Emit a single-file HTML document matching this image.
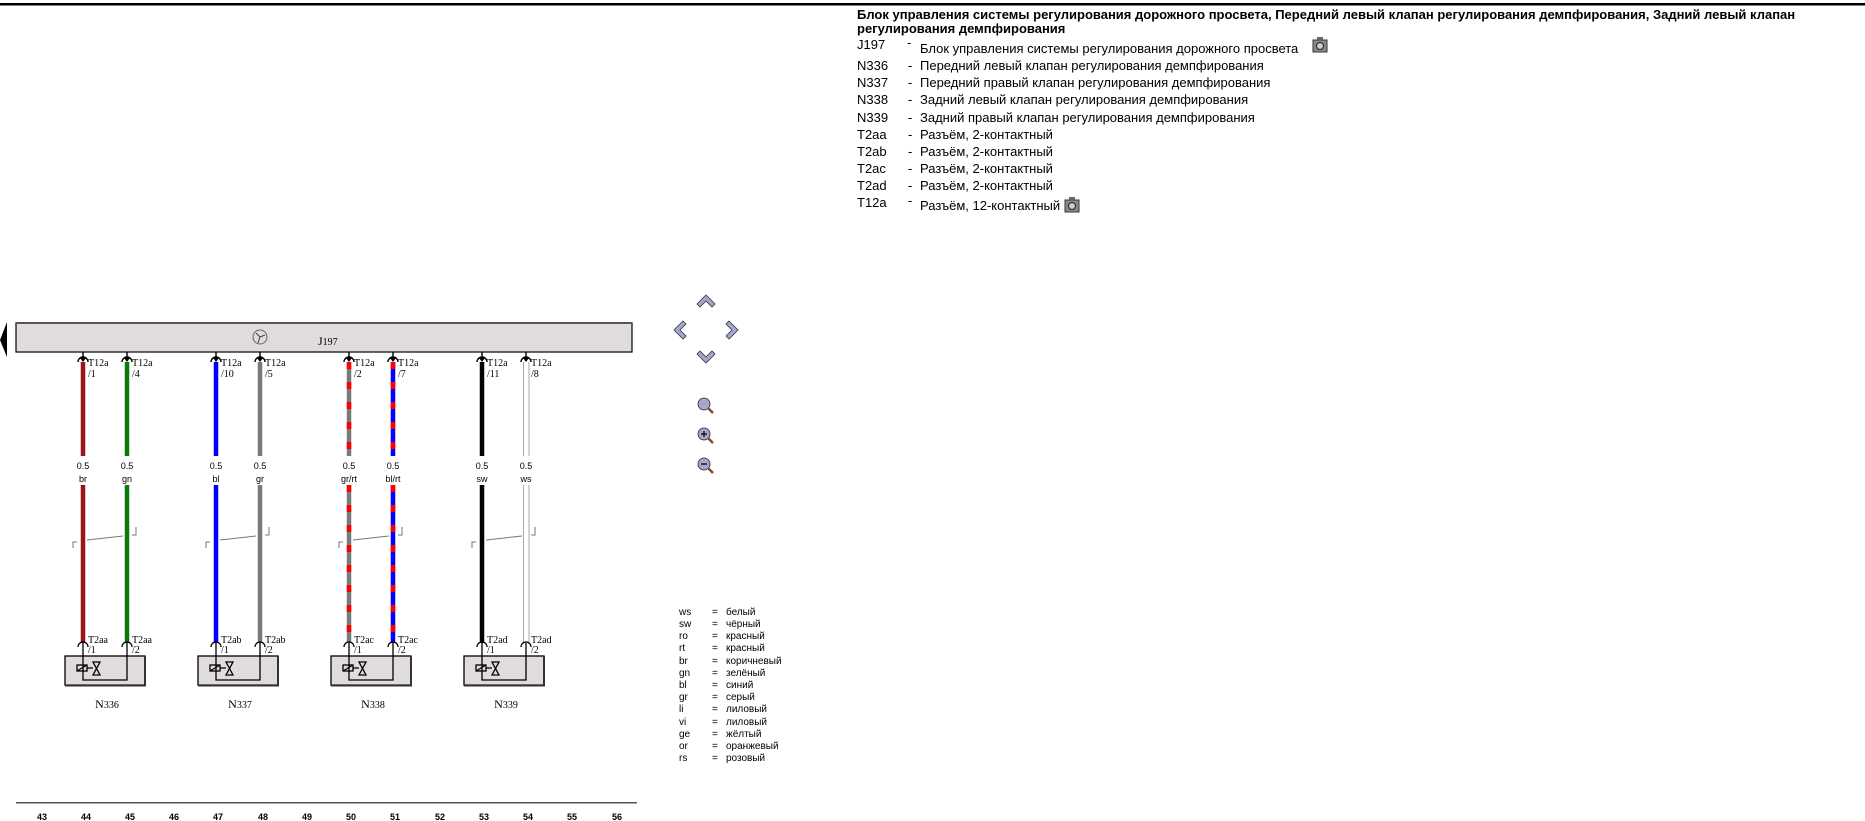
<!DOCTYPE html>
<html><head><meta charset="utf-8"><style>
html,body{margin:0;padding:0;background:#fff;width:1865px;height:821px;overflow:hidden}
svg{display:block}
.s{font-family:"Liberation Sans",sans-serif}
.r{font-family:"Liberation Serif",serif}
</style></head><body>
<svg width="1865" height="821" viewBox="0 0 1865 821" xmlns="http://www.w3.org/2000/svg">
<rect x="0" y="3" width="1865" height="2.5" fill="#000"/>
<g class="s" font-size="13" fill="#000">
<text x="857" y="19" font-weight="bold">Блок управления системы регулирования дорожного просвета, Передний левый клапан регулирования демпфирования, Задний левый клапан</text>
<text x="857" y="33" font-weight="bold">регулирования демпфирования</text>
<text x="857" y="49">J197</text><text x="907" y="47">-</text>
<text x="920" y="53">Блок управления системы регулирования дорожного просвета</text>
<text x="857" y="70">N336</text><text x="908" y="70">-</text><text x="920" y="70">Передний левый клапан регулирования демпфирования</text>
<text x="857" y="87">N337</text><text x="908" y="87">-</text><text x="920" y="87">Передний правый клапан регулирования демпфирования</text>
<text x="857" y="104">N338</text><text x="908" y="104">-</text><text x="920" y="104">Задний левый клапан регулирования демпфирования</text>
<text x="857" y="122">N339</text><text x="908" y="122">-</text><text x="920" y="122">Задний правый клапан регулирования демпфирования</text>
<text x="857" y="139">T2aa</text><text x="908" y="139">-</text><text x="920" y="139">Разъём, 2-контактный</text>
<text x="857" y="156">T2ab</text><text x="908" y="156">-</text><text x="920" y="156">Разъём, 2-контактный</text>
<text x="857" y="173">T2ac</text><text x="908" y="173">-</text><text x="920" y="173">Разъём, 2-контактный</text>
<text x="857" y="190">T2ad</text><text x="908" y="190">-</text><text x="920" y="190">Разъём, 2-контактный</text>
<text x="857" y="207">T12a</text><text x="908" y="205">-</text><text x="920" y="210">Разъём, 12-контактный</text>
</g>
<g transform="translate(66,0)"><rect x="1247" y="40" width="14" height="12" fill="#888" stroke="#333" stroke-width="1"/><rect x="1251" y="37" width="6" height="4" fill="#666"/><circle cx="1254" cy="46" r="3.5" fill="#ccc" stroke="#222"/></g>
<g transform="translate(-182,160)"><rect x="1247" y="40" width="14" height="12" fill="#888" stroke="#333" stroke-width="1"/><rect x="1251" y="37" width="6" height="4" fill="#666"/><circle cx="1254" cy="46" r="3.5" fill="#ccc" stroke="#222"/></g>

<polygon points="0,340 7,322 7,357" fill="#000"/>
<rect x="16" y="323" width="616" height="29" fill="#dfdbde" stroke="#000" stroke-width="1.2"/>
<rect x="16" y="322" width="616" height="2" fill="#555"/>
<circle cx="260" cy="337" r="7" fill="none" stroke="#666" stroke-width="1"/>
<path d="M256,333 L260,337 L265,335 M260,337 L258,343" stroke="#444" fill="none" stroke-width="1"/>
<text x="318" y="345" class="r" font-size="12">J<tspan font-size="10">197</tspan></text>

<g stroke-width="4.5" fill="none">
<path d="M83,362V456M83,485V643" stroke="#9b1418"/>
<path d="M127,362V456M127,485V643" stroke="#0b7a0b"/>
<path d="M216,362V456M216,485V643" stroke="#0000ff"/>
<path d="M260,362V456M260,485V643" stroke="#7a7a7a"/>
<path d="M349,362V456M349,485V643" stroke="#7a7a7a"/>
<path d="M349,362V456M349,485V643" stroke="#ff0000" stroke-dasharray="7 13"/>
<path d="M393,362V456M393,485V643" stroke="#0000ff"/>
<path d="M393,362V456M393,485V643" stroke="#ff0000" stroke-dasharray="7 13"/>
<path d="M482,362V456M482,485V643" stroke="#000"/>
</g>
<g stroke="#aaa" stroke-width="1" fill="none">
<path d="M523.5,362V456M523.5,485V643M529,362V456M529,485V643"/>
</g>

<g stroke="#000" stroke-width="1.4" fill="none">
<path d="M78,362 A5,5 0 0 1 88,362 M83,352V361"/>
<path d="M122,362 A5,5 0 0 1 132,362 M127,352V361"/>
<path d="M211,362 A5,5 0 0 1 221,362 M216,352V361"/>
<path d="M255,362 A5,5 0 0 1 265,362 M260,352V361"/>
<path d="M344,362 A5,5 0 0 1 354,362 M349,352V361"/>
<path d="M388,362 A5,5 0 0 1 398,362 M393,352V361"/>
<path d="M477,362 A5,5 0 0 1 487,362 M482,352V361"/>
<path d="M521,362 A5,5 0 0 1 531,362 M526,352V361"/>
</g>
<g fill="#000">
<polygon points="80,358 86,358 83,362"/><polygon points="124,358 130,358 127,362"/><polygon points="213,358 219,358 216,362"/><polygon points="257,358 263,358 260,362"/><polygon points="346,358 352,358 349,362"/><polygon points="390,358 396,358 393,362"/><polygon points="479,358 485,358 482,362"/><polygon points="523,358 529,358 526,362"/>
</g>
<g class="r" font-size="10" fill="#000">
<text x="88" y="366">T12a</text><text x="88" y="377">/1</text>
<text x="132" y="366">T12a</text><text x="132" y="377">/4</text>
<text x="221" y="366">T12a</text><text x="221" y="377">/10</text>
<text x="265" y="366">T12a</text><text x="265" y="377">/5</text>
<text x="354" y="366">T12a</text><text x="354" y="377">/2</text>
<text x="398" y="366">T12a</text><text x="398" y="377">/7</text>
<text x="487" y="366">T12a</text><text x="487" y="377">/11</text>
<text x="531" y="366">T12a</text><text x="531" y="377">/8</text>
</g>
<g class="s" font-size="9" fill="#000" text-anchor="middle">
<text x="83" y="469">0.5</text><text x="83" y="482">br</text>
<text x="127" y="469">0.5</text><text x="127" y="482">gn</text>
<text x="216" y="469">0.5</text><text x="216" y="482">bl</text>
<text x="260" y="469">0.5</text><text x="260" y="482">gr</text>
<text x="349" y="469">0.5</text><text x="349" y="482">gr/rt</text>
<text x="393" y="469">0.5</text><text x="393" y="482">bl/rt</text>
<text x="482" y="469">0.5</text><text x="482" y="482">sw</text>
<text x="526" y="469">0.5</text><text x="526" y="482">ws</text>
</g>
<g stroke="#777" stroke-width="1" fill="none">
<path d="M73,548V542H77 M87,540L123,536 M132,535H136V527"/>
<path d="M206,548V542H210 M220,540L256,536 M265,535H269V527"/>
<path d="M339,548V542H343 M353,540L389,536 M398,535H402V527"/>
<path d="M472,548V542H476 M486,540L522,536 M531,535H535V527"/>
</g>

<g id="c1">
<rect x="65" y="656" width="80" height="29" fill="#dfdbde" stroke="#000" stroke-width="1.3"/>
<path d="M65,685.5H145V656" stroke="#333" stroke-width="2" fill="none"/>
<g stroke="#000" stroke-width="1.3" fill="none">
<path d="M78,647 A5,5 0 0 1 88,647"/><path d="M122,647 A5,5 0 0 1 132,647"/>
<path d="M83,643V680H127V643"/>
<rect x="77" y="665" width="10" height="6"/>
<path d="M77,671L87,665 M87,668H93 M93,662H100L93,675H100Z"/>
</g>
</g>
<use href="#c1" x="133"/><use href="#c1" x="266"/><use href="#c1" x="399"/>
<g class="r" font-size="10" fill="#000">
<text x="88" y="643">T2aa</text><text x="88" y="653">/1</text><text x="132" y="643">T2aa</text><text x="132" y="653">/2</text>
<text x="221" y="643">T2ab</text><text x="221" y="653">/1</text><text x="265" y="643">T2ab</text><text x="265" y="653">/2</text>
<text x="354" y="643">T2ac</text><text x="354" y="653">/1</text><text x="398" y="643">T2ac</text><text x="398" y="653">/2</text>
<text x="487" y="643">T2ad</text><text x="487" y="653">/1</text><text x="531" y="643">T2ad</text><text x="531" y="653">/2</text>
</g>
<g class="r" font-size="12" fill="#000" text-anchor="middle">
<text x="107" y="708">N<tspan font-size="10">336</tspan></text>
<text x="240" y="708">N<tspan font-size="10">337</tspan></text>
<text x="373" y="708">N<tspan font-size="10">338</tspan></text>
<text x="506" y="708">N<tspan font-size="10">339</tspan></text>
</g>

<rect x="16" y="802" width="621" height="1.5" fill="#555"/>
<g class="s" font-size="9" font-weight="bold" fill="#000" text-anchor="middle">
<text x="42" y="820">43</text><text x="86" y="820">44</text><text x="130" y="820">45</text><text x="174" y="820">46</text><text x="218" y="820">47</text><text x="263" y="820">48</text><text x="307" y="820">49</text><text x="351" y="820">50</text><text x="395" y="820">51</text><text x="440" y="820">52</text><text x="484" y="820">53</text><text x="528" y="820">54</text><text x="572" y="820">55</text><text x="617" y="820">56</text>
</g>

<g fill="#a4a8cc" stroke="#334" stroke-width="0.8">
<path d="M697,304 L706,295 L715,304 L712,307 L706,301 L700,307Z"/>
<path d="M697,354 L706,363 L715,354 L712,351 L706,357 L700,351Z"/>
<path d="M683,321 L674,330 L683,339 L686,336 L680,330 L686,324Z"/>
<path d="M729,321 L738,330 L729,339 L726,336 L732,330 L726,324Z"/>
</g>
<g stroke="#223" stroke-width="0.8" fill="#a4a8cc">
<circle cx="704" cy="404" r="6"/><circle cx="704" cy="434" r="6"/><circle cx="704" cy="464" r="6"/>
</g>
<g stroke="#8a4a20" stroke-width="2.5"><path d="M708,408L713,413M708,438L713,443M708,468L713,473"/></g>
<path d="M701,434H707M704,431V437M701,464H707" stroke="#000" stroke-width="1.2"/>

<g class="s" font-size="10" fill="#000">
<text x="679" y="615">ws</text><text x="712" y="615">=</text><text x="726" y="615">белый</text>
<text x="679" y="627">sw</text><text x="712" y="627">=</text><text x="726" y="627">чёрный</text>
<text x="679" y="639">ro</text><text x="712" y="639">=</text><text x="726" y="639">красный</text>
<text x="679" y="651">rt</text><text x="712" y="651">=</text><text x="726" y="651">красный</text>
<text x="679" y="664">br</text><text x="712" y="664">=</text><text x="726" y="664">коричневый</text>
<text x="679" y="676">gn</text><text x="712" y="676">=</text><text x="726" y="676">зелёный</text>
<text x="679" y="688">bl</text><text x="712" y="688">=</text><text x="726" y="688">синий</text>
<text x="679" y="700">gr</text><text x="712" y="700">=</text><text x="726" y="700">серый</text>
<text x="679" y="712">li</text><text x="712" y="712">=</text><text x="726" y="712">лиловый</text>
<text x="679" y="725">vi</text><text x="712" y="725">=</text><text x="726" y="725">лиловый</text>
<text x="679" y="737">ge</text><text x="712" y="737">=</text><text x="726" y="737">жёлтый</text>
<text x="679" y="749">or</text><text x="712" y="749">=</text><text x="726" y="749">оранжевый</text>
<text x="679" y="761">rs</text><text x="712" y="761">=</text><text x="726" y="761">розовый</text>
</g>
</svg>
</body></html>
